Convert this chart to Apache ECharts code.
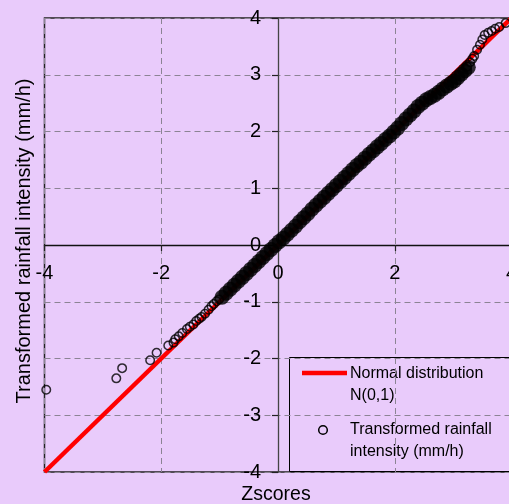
<!DOCTYPE html>
<html>
<head>
<meta charset="utf-8">
<script src="https://cdn.jsdelivr.net/npm/echarts@6/dist/echarts.min.js"></script>
<style>
  html, body { margin: 0; padding: 0; background: #E9CBFB; }
  #chart { width: 509px; height: 504px; }
</style>
</head>
<body>
<div id="chart"></div>
<script>
// Axis ranges and tick spacing
const xRange = [-4, 4];
const yRange = [-4, 4];

// Reference line: standard normal N(0,1), endpoints in z-score units
const normalLine = [[-4, -4], [4, 4]];

// Sample quantiles: sparse lower tail (z-score, transformed intensity)
const lowerTailZ = [-3.97, -2.77, -2.67, -2.19, -2.08, -1.88, -1.79, -1.76, -1.70, -1.64, -1.56, -1.51, -1.45, -1.40, -1.35, -1.31, -1.25, -1.19, -1.14, -1.10, -1.05, -1.01];
const lowerTailT = [-2.55, -2.35, -2.17, -2.03, -1.90, -1.77, -1.72, -1.66, -1.61, -1.55, -1.48, -1.44, -1.40, -1.34, -1.30, -1.27, -1.21, -1.14, -1.08, -1.04, -0.99, -0.96];

// Dense central body of the sample
const bodyZ = [-0.96, -0.89, -0.82, -0.75, -0.68, -0.61, -0.54, -0.47, -0.40, -0.33, -0.26, -0.19, -0.12, -0.05, 0.02, 0.09, 0.16, 0.23, 0.30, 0.37, 0.44, 0.51, 0.58, 0.65, 0.72, 0.79, 0.86, 0.93, 1.00, 1.07, 1.14, 1.21, 1.28, 1.35, 1.42, 1.49, 1.56, 1.63, 1.70, 1.77, 1.84, 1.91, 1.98, 2.05, 2.12, 2.19, 2.26, 2.33, 2.40, 2.47, 2.54, 2.61, 2.68, 2.75, 2.82, 2.89, 2.96, 3.02, 3.08, 3.14, 3.20, 3.26];
const bodyT = [-0.92, -0.85, -0.78, -0.71, -0.64, -0.57, -0.50, -0.43, -0.36, -0.29, -0.22, -0.15, -0.08, -0.01, 0.06, 0.12, 0.19, 0.26, 0.33, 0.41, 0.48, 0.55, 0.63, 0.70, 0.77, 0.84, 0.91, 0.98, 1.05, 1.12, 1.19, 1.26, 1.33, 1.40, 1.46, 1.53, 1.60, 1.66, 1.73, 1.79, 1.86, 1.92, 1.99, 2.06, 2.14, 2.22, 2.29, 2.36, 2.44, 2.50, 2.56, 2.60, 2.64, 2.69, 2.75, 2.80, 2.85, 2.89, 2.95, 3.01, 3.07, 3.13];

// Sparse upper tail
const upperTailZ = [3.24, 3.29, 3.33, 3.36, 3.41, 3.46, 3.50, 3.54, 3.60, 3.66, 3.72, 3.79, 3.90];
const upperTailT = [3.14, 3.22, 3.28, 3.33, 3.44, 3.53, 3.62, 3.70, 3.74, 3.77, 3.81, 3.84, 3.91];

const zip = (a, b) => a.map((v, i) => [v, b[i]]);

const BG = '#E9CBFB';
const FONT = '"Liberation Sans", Arial, sans-serif';
const W = 509, H = 504;
const G = { left: 44.5, right: -2.5, top: 18, bottom: 32 };
const plotW = W - G.left - G.right;
const plotH = H - G.top - G.bottom;

const chart = echarts.init(document.getElementById('chart'), null, { renderer: 'canvas' });

// The axes cross at the origin: shift each one from its grid edge to the zero position.
const zeroFromBottom = plotH * (0 - yRange[0]) / (yRange[1] - yRange[0]);
const zeroFromLeft = plotW * (0 - xRange[0]) / (xRange[1] - xRange[0]);

const axisCommon = {
  type: 'value',
  axisTick: { show: true, length: 6, lineStyle: { color: '#222', width: 1.2 } },
  axisLabel: { color: '#000', fontSize: 20, fontFamily: FONT, showMinLabel: true, showMaxLabel: true, hideOverlap: false },
  splitLine: { show: true, lineStyle: { color: '#8c8494', type: [6, 4], width: 1 } }
};

chart.setOption({
  backgroundColor: BG,
  animation: false,
  grid: {
    left: G.left, right: G.right, top: G.top, bottom: G.bottom,
    show: true, borderColor: '#222', borderWidth: 1.5, backgroundColor: 'transparent',
    containLabel: false, outerBoundsMode: 'none'
  },
  xAxis: Object.assign({}, axisCommon, {
    min: xRange[0], max: xRange[1], interval: 2,
    position: 'bottom',
    offset: -zeroFromBottom,
    axisLine: { onZero: false, lineStyle: { color: '#111', width: 1.3 } },
    axisLabel: Object.assign({}, axisCommon.axisLabel, { margin: 18 })
  }),
  yAxis: Object.assign({}, axisCommon, {
    min: yRange[0], max: yRange[1], interval: 1,
    position: 'left',
    offset: -zeroFromLeft,
    axisLine: { onZero: false, lineStyle: { color: '#444', width: 1.3 } },
    axisLabel: Object.assign({}, axisCommon.axisLabel, { margin: 17 })
  }),
  series: [
    {
      name: 'Normal distribution N(0,1)',
      type: 'line',
      data: normalLine,
      symbol: 'none',
      lineStyle: { color: '#ff0000', width: 4.5 },
      z: 2,
      silent: true
    },
    {
      name: 'Transformed rainfall intensity (mm/h)',
      type: 'scatter',
      data: zip(bodyZ, bodyT),
      symbol: 'circle',
      symbolSize: 15,
      itemStyle: { color: '#000' },
      z: 3,
      silent: true
    },
    {
      name: 'Transformed rainfall intensity (mm/h)',
      type: 'scatter',
      data: zip(lowerTailZ, lowerTailT).concat(zip(upperTailZ, upperTailT)),
      symbol: 'circle',
      symbolSize: 8.5,
      itemStyle: { color: 'rgba(0,0,0,0)', borderColor: '#000', borderWidth: 1.5 },
      z: 4,
      silent: true
    }
  ],
  graphic: [
    {
      type: 'text', x: 24, y: 241, rotation: Math.PI / 2, z: 100,
      style: { text: 'Transformed rainfall intensity (mm/h)', fontSize: 20, fontFamily: FONT, fill: '#000', align: 'center', verticalAlign: 'middle' }
    },
    {
      type: 'text', x: 276, y: 495, z: 100,
      style: { text: 'Zscores', fontSize: 19.5, fontFamily: FONT, fill: '#000', align: 'center', verticalAlign: 'middle' }
    },
    {
      type: 'group', z: 100,
      children: [
        { type: 'rect', shape: { x: 289.5, y: 357.5, width: 240, height: 114 }, style: { fill: BG, stroke: '#000', lineWidth: 1 } },
        { type: 'line', shape: { x1: 302, y1: 373, x2: 347, y2: 373 }, style: { stroke: '#ff0000', lineWidth: 4.5 } },
        { type: 'text', x: 350, y: 374, style: { text: 'Normal distribution', fontSize: 16, fontFamily: FONT, fill: '#000', align: 'left', verticalAlign: 'middle' } },
        { type: 'text', x: 350, y: 396, style: { text: 'N(0,1)', fontSize: 16, fontFamily: FONT, fill: '#000', align: 'left', verticalAlign: 'middle' } },
        { type: 'circle', shape: { cx: 323, cy: 430, r: 4.3 }, style: { fill: 'none', stroke: '#000', lineWidth: 1.5 } },
        { type: 'text', x: 350, y: 430, style: { text: 'Transformed rainfall', fontSize: 16, fontFamily: FONT, fill: '#000', align: 'left', verticalAlign: 'middle' } },
        { type: 'text', x: 350, y: 452, style: { text: 'intensity (mm/h)', fontSize: 16, fontFamily: FONT, fill: '#000', align: 'left', verticalAlign: 'middle' } }
      ]
    }
  ]
});
</script>
</body>
</html>
